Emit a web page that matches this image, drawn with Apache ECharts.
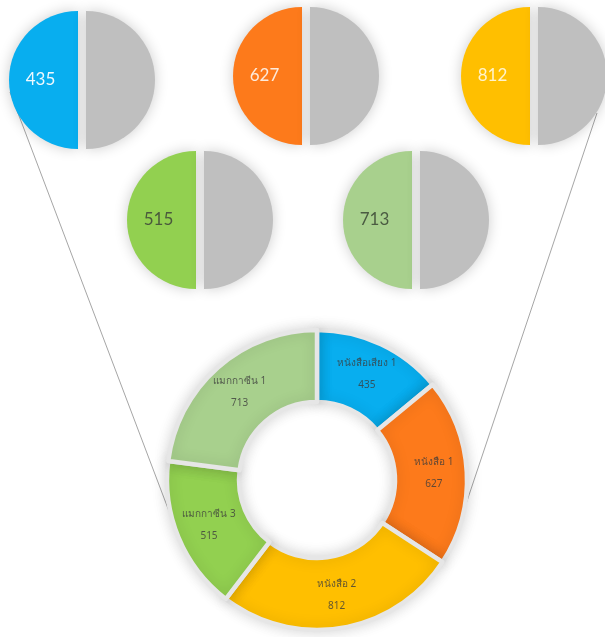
<!DOCTYPE html>
<html>
<head>
<meta charset="utf-8">
<script src="https://cdn.jsdelivr.net/npm/echarts@6/dist/echarts.min.js"></script>
<style>
  html, body { margin: 0; padding: 0; background: #fff; }
  #chart { width: 605px; height: 637px; }
</style>
</head>
<body>
<div id="chart"></div>
<script>
// ข้อมูลยอดขายแต่ละรายการ
const categories = ['หนังสือเสียง 1', 'หนังสือ 1', 'หนังสือ 2', 'แมกกาซีน 3', 'แมกกาซีน 1']
const values = [435, 627, 812, 515, 713]

const colors = ['#08aeef', '#fd7a1b', '#ffbf00', '#92d050', '#a8d08d']
const pieLabelColors = ['#eef8fe', '#fdeadb', '#fff3cc', '#4a5a3c', '#4b5b42']
// ตำแหน่งวงกลมเล็กด้านบน
const smallCenters = [[82, 80], [306, 76], [534, 76], [200, 220], [416, 220]]

const chart = echarts.init(document.getElementById('chart'))

const hidden = { color: 'rgba(0,0,0,0)' }
const shadow = { shadowBlur: 14, shadowColor: 'rgba(0,0,0,0.2)' }

let series = []
categories.forEach((name, i) => {
  let c = smallCenters[i]
  let base = {
    type: 'pie',
    radius: 69,
    startAngle: 90,
    clockwise: false,
    silent: true,
    label: { show: false },
    labelLine: { show: false }
  }
  // ครึ่งซ้าย (สี)
  series.push(Object.assign({}, base, {
    center: [c[0] - 4, c[1]],
    data: [
      {
        value: values[i],
        name: name,
        itemStyle: Object.assign({ color: colors[i] }, shadow),
        label: {
          show: true,
          position: 'inside',
          formatter: '{c}',
          color: pieLabelColors[i],
          fontSize: 17,
          fontFamily: 'Lato, sans-serif'
        }
      },
      { value: values[i], name: '', itemStyle: hidden }
    ]
  }))
  // ครึ่งขวา (เทา)
  series.push(Object.assign({}, base, {
    center: [c[0] + 4, c[1]],
    data: [
      { value: values[i], name: '', itemStyle: hidden },
      { value: values[i], name: '', itemStyle: Object.assign({ color: '#bfbfbf' }, shadow) }
    ]
  }))
})

// โดนัทรวม
series.push({
  type: 'pie',
  center: [317, 480],
  radius: [78, 150],
  startAngle: 90,
  clockwise: true,
  silent: true,
  z: 3,
  itemStyle: {
    borderColor: '#e6e6e6',
    borderWidth: 4.5,
    shadowBlur: 14,
    shadowColor: 'rgba(0,0,0,0.15)'
  },
  label: {
    show: true,
    position: 'inside',
    formatter: '{b}\n{c}',
    color: 'rgba(60,60,60,0.8)',
    fontSize: 10,
    lineHeight: 22,
    fontFamily: 'Noto Sans, DejaVu Sans, sans-serif'
  },
  labelLine: { show: false },
  data: categories.map((name, i) => ({ name: name, value: values[i], itemStyle: { color: colors[i] } }))
})

let option = {
  animation: false,
  backgroundColor: '#fff',
  graphic: [
    {
      type: 'line',
      z: 0,
      shape: { x1: 10, y1: 92, x2: 175, y2: 527 },
      style: { stroke: '#a6a6a6', lineWidth: 1 }
    },
    {
      type: 'line',
      z: 0,
      shape: { x1: 597, y1: 113, x2: 464, y2: 510 },
      style: { stroke: '#a6a6a6', lineWidth: 1 }
    }
  ],
  series: series
}
chart.setOption(option)
</script>
</body>
</html>
